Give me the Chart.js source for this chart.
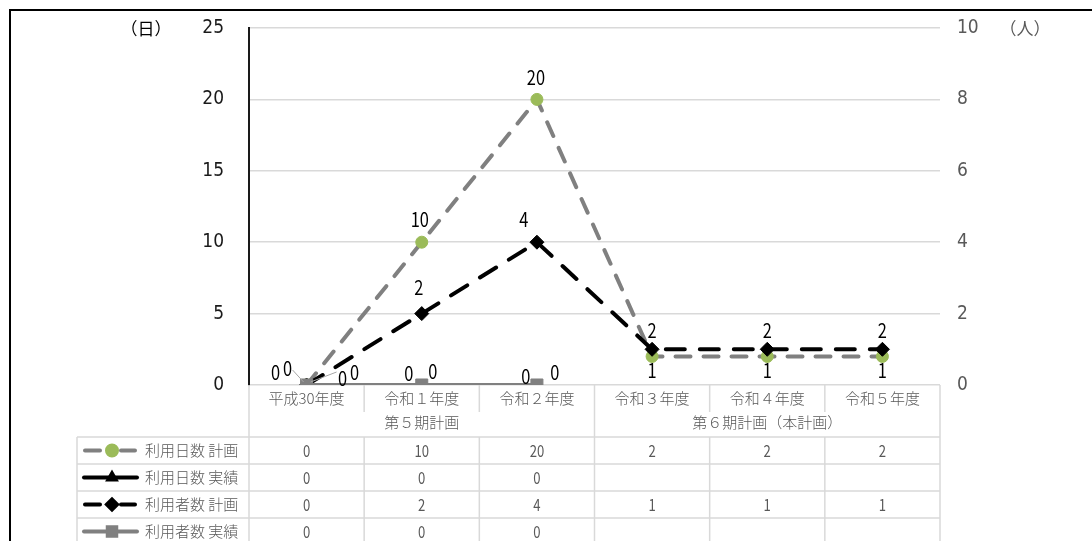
<!DOCTYPE html>
<html>
<head>
<meta charset="utf-8">
<script src="https://cdn.jsdelivr.net/npm/chart.js@4.4.0/dist/chart.umd.min.js"></script>
<style>
  html, body { margin: 0; padding: 0; background: #fff; }
  #wrap { position: relative; width: 1092px; height: 541px; }
</style>
</head>
<body>
<div id="wrap"><canvas id="c" width="1092" height="541"></canvas></div>
<script>
// ---- data ----
const categories = ['平成30年度', '令和１年度', '令和２年度', '令和３年度', '令和４年度', '令和５年度'];
const periods = ['第５期計画', '第６期計画（本計画）'];
const periodSpans = [3, 3];
const seriesNames = ['利用日数 計画', '利用日数 実績', '利用者数 計画', '利用者数 実績'];
const daysPlan = [0, 10, 20, 2, 2, 2];
const daysActual = [0, 0, 0, null, null, null];
const usersPlan = [0, 2, 4, 1, 1, 1];
const usersActual = [0, 0, 0, null, null, null];
const daysTicks = [0, 5, 10, 15, 20, 25];
const usersTicks = [0, 2, 4, 6, 8, 10];
const daysUnit = '（日）';
const usersUnit = '（人）';

// ---- fonts & colours ----
const TICK_FONT = "'DejaVu Sans'";
const CJK_FONT = "'Noto Sans CJK JP', sans-serif";
const NUM_SQUEEZE = 0.82;
const GREY_TEXT = '#595959';
const GRID = '#d9d9d9';
const LINE_GREY = '#808080';
const GREEN = '#9bbb59';

// label offsets from each point: [dx, dy] and optional leader [x1, y1, x2, y2]
const labelPlacement = [
  [[-31, -13, [-14, -15, -3, -3]], [-2, -23], [-1, -22], [0, -26], [0, -26], [0, -26]],
  [[36, -7, [30, -13, 4, -3]], [-13, -12], [-11, -9]],
  [[-19, -17], [-3, -26], [-13, -23], [0, 21], [0, 21], [0, 21]],
  [[48, -13], [11, -14], [18, -13]]
];

const seriesStyles = [
  { color: LINE_GREY, dash: [15, 13], point: 'circle', radius: 6, pointColor: GREEN, legendRadius: 5 },
  { color: '#000000', dash: [], point: 'triangle', radius: 6, pointColor: '#000000', legendRadius: 4 },
  { color: '#000000', dash: [19, 15], point: 'rectRot', radius: 7, pointColor: '#000000', legendRadius: 5 },
  { color: LINE_GREY, dash: [], point: 'rect', radius: 8.5, pointColor: LINE_GREY, legendRadius: 6 }
];
const seriesData = [daysPlan, daysActual, usersPlan, usersActual];
const seriesAxis = ['yDays', 'yDays', 'yUsers', 'yUsers'];
const drawOrder = [4, 3, 2, 1];

const datasets = seriesNames.map((name, i) => ({
  label: name,
  data: seriesData[i],
  yAxisID: seriesAxis[i],
  order: drawOrder[i],
  borderColor: seriesStyles[i].color,
  borderWidth: 4,
  borderDash: seriesStyles[i].dash,
  borderCapStyle: 'round',
  borderJoinStyle: 'round',
  pointStyle: seriesStyles[i].point,
  pointRadius: seriesStyles[i].radius,
  pointBackgroundColor: seriesStyles[i].pointColor,
  pointBorderColor: seriesStyles[i].pointColor,
  pointBorderWidth: 1,
  tension: 0,
  spanGaps: false
}));

// narrow numeric text
function numText(ctx, s, x, y, size, color) {
  ctx.save();
  ctx.font = size + 'px ' + CJK_FONT;
  ctx.fillStyle = color;
  ctx.textAlign = 'center';
  ctx.textBaseline = 'middle';
  ctx.translate(x, y);
  ctx.scale(NUM_SQUEEZE, 1);
  ctx.fillText(s, 0, 0);
  ctx.restore();
}

// outer frame, axis units, and the data table under the plot
const tablePlugin = {
  id: 'tablePlugin',
  afterDraw(chart) {
    const ctx = chart.ctx;
    const area = chart.chartArea;
    const xs = chart.scales.x;
    const n = categories.length;
    const colW = (area.right - area.left) / n;
    const catTop = area.bottom;
    const catH = 25;
    const grpH = 27;
    const rowTop = catTop + catH + grpH;
    const rowH = 27;
    const legLeft = 77;
    ctx.save();

    // frame
    ctx.strokeStyle = '#000';
    ctx.lineWidth = 2;
    ctx.beginPath();
    ctx.moveTo(10, 541); ctx.lineTo(10, 10); ctx.lineTo(1092, 10);
    ctx.stroke();

    // units
    ctx.textBaseline = 'middle';
    ctx.textAlign = 'center';
    ctx.font = '17px ' + CJK_FONT;
    ctx.fillStyle = '#000';
    ctx.fillText(daysUnit, 146, 29);
    ctx.fillStyle = GREY_TEXT;
    ctx.fillText(usersUnit, 1025, 29);

    // table grid
    ctx.strokeStyle = GRID;
    ctx.lineWidth = 1.5;
    ctx.beginPath();
    ctx.moveTo(area.left, catTop); ctx.lineTo(area.left, 541);
    ctx.moveTo(area.right, catTop); ctx.lineTo(area.right, 541);
    let acc = 0;
    const periodEdges = new Set();
    periodSpans.forEach(s => { acc += s; periodEdges.add(acc); });
    for (let k = 1; k < n; k++) {
      const x = area.left + k * colW;
      if (periodEdges.has(k)) {
        ctx.moveTo(x, catTop); ctx.lineTo(x, 541);
      } else {
        ctx.moveTo(x, catTop); ctx.lineTo(x, catTop + catH + 2);
        ctx.moveTo(x, rowTop); ctx.lineTo(x, 541);
      }
    }
    ctx.moveTo(legLeft, rowTop); ctx.lineTo(legLeft, 541);
    for (let r = 0; r <= seriesNames.length; r++) {
      const y = rowTop + r * rowH;
      ctx.moveTo(legLeft, y); ctx.lineTo(area.right, y);
    }
    ctx.stroke();

    // category labels
    ctx.fillStyle = GREY_TEXT;
    ctx.font = '300 15px ' + CJK_FONT;
    categories.forEach((c, k) => {
      ctx.fillText(c, xs.getPixelForValue(k), catTop + catH / 2 + 1);
    });
    // period labels
    let start = 0;
    periods.forEach((p, k) => {
      const x0 = area.left + start * colW;
      const x1 = area.left + (start + periodSpans[k]) * colW;
      ctx.fillText(p, (x0 + x1) / 2, catTop + catH + grpH / 2 - 1);
      start += periodSpans[k];
    });

    // legend keys and values
    seriesNames.forEach((name, i) => {
      const st = seriesStyles[i];
      const cy = rowTop + i * rowH + rowH / 2;
      ctx.save();
      ctx.strokeStyle = st.color;
      ctx.lineWidth = 4;
      ctx.lineCap = 'round';
      ctx.beginPath();
      if (st.dash.length) {
        ctx.moveTo(85, cy); ctx.lineTo(100, cy);
        ctx.moveTo(121, cy); ctx.lineTo(135, cy);
      } else {
        ctx.moveTo(84, cy); ctx.lineTo(137, cy);
      }
      ctx.stroke();
      ctx.fillStyle = st.pointColor;
      ctx.strokeStyle = st.pointColor;
      Chart.helpers.drawPoint(ctx, {
        pointStyle: st.point, radius: st.legendRadius, rotation: 0, borderWidth: 1
      }, 112, cy);
      ctx.restore();

      ctx.fillStyle = GREY_TEXT;
      ctx.textAlign = 'left';
      ctx.font = '300 15px ' + CJK_FONT;
      ctx.fillText(name, 145, cy);
      seriesData[i].forEach((v, k) => {
        if (v === null || v === undefined) return;
        numText(ctx, String(v), xs.getPixelForValue(k), cy, 16, GREY_TEXT);
      });
    });
    ctx.restore();
  }
};

// value labels next to the points
const valueLabels = {
  id: 'valueLabels',
  afterDatasetsDraw(chart) {
    const ctx = chart.ctx;
    chart.data.datasets.forEach((ds, i) => {
      const meta = chart.getDatasetMeta(i);
      ds.data.forEach((v, k) => {
        if (v === null || v === undefined) return;
        const el = meta.data[k];
        const pl = labelPlacement[i][k] || [0, -20];
        if (pl[2]) {
          const L = pl[2];
          ctx.save();
          ctx.strokeStyle = '#a6a6a6';
          ctx.lineWidth = 1;
          ctx.beginPath();
          ctx.moveTo(el.x + L[0], el.y + L[1]);
          ctx.lineTo(el.x + L[2], el.y + L[3]);
          ctx.stroke();
          ctx.restore();
        }
        numText(ctx, String(v), el.x + pl[0], el.y + pl[1], 20, '#000');
      });
    });
  }
};

new Chart(document.getElementById('c'), {
  type: 'line',
  data: { labels: categories, datasets },
  options: {
    responsive: false,
    animation: false,
    devicePixelRatio: 1,
    layout: { padding: { top: 28, bottom: 156, left: 0, right: 0 } },
    plugins: { legend: { display: false }, tooltip: { enabled: false } },
    scales: {
      x: { type: 'category', offset: true, display: false },
      yDays: {
        position: 'left',
        min: daysTicks[0],
        max: daysTicks[daysTicks.length - 1],
        afterBuildTicks(s) { s.ticks = daysTicks.map(v => ({ value: v })); },
        afterFit(s) { s.width = 249; s.paddingTop = 0; s.paddingBottom = 0; },
        grid: { color: GRID, lineWidth: 1.5, drawTicks: false },
        border: { display: true, color: '#1a1a1a', width: 2 },
        ticks: { padding: 25, color: '#1a1a1a', font: { family: TICK_FONT, size: 19, weight: 'condensed' } }
      },
      yUsers: {
        position: 'right',
        min: usersTicks[0],
        max: usersTicks[usersTicks.length - 1],
        afterBuildTicks(s) { s.ticks = usersTicks.map(v => ({ value: v })); },
        afterFit(s) { s.width = 152; s.paddingTop = 0; s.paddingBottom = 0; },
        grid: { display: false, drawTicks: false },
        border: { display: false },
        ticks: { padding: 17, color: GREY_TEXT, font: { family: TICK_FONT, size: 19, weight: 'condensed' } }
      }
    }
  },
  plugins: [tablePlugin, valueLabels]
});
</script>
</body>
</html>
